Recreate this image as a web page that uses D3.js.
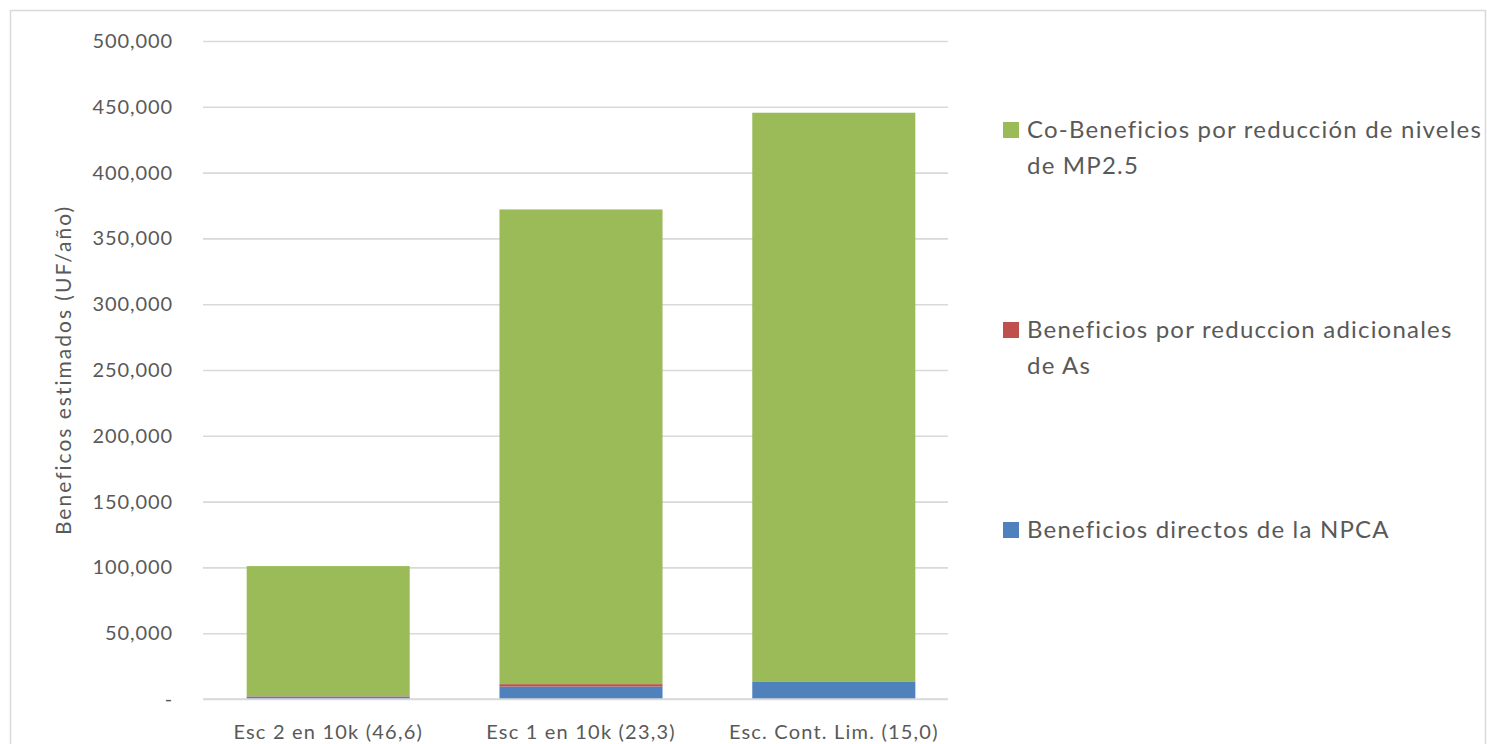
<!DOCTYPE html>
<html>
<head>
<meta charset="utf-8">
<script src="https://cdn.jsdelivr.net/npm/d3@7"></script>
<style>
  html, body { margin: 0; padding: 0; background: #ffffff; }
  svg { display: block; }
  text { font-family: Lato, "Open Sans", "Liberation Sans", sans-serif; fill: #595959; }
</style>
</head>
<body>
<svg id="chart" width="1487" height="744"></svg>
<script>
// Scenarios on the x axis
const categories = ["Esc 2 en 10k (46,6)", "Esc 1 en 10k (23,3)", "Esc. Cont. Lim. (15,0)"];

// Stacked series (UF/año), bottom to top
const directos = [1800, 9500, 13000];        // Beneficios directos de la NPCA
const arsenico = [300, 1800, 400];           // Beneficios por reduccion adicionales de As
const coBeneficios = [98900, 360700, 432100]; // Co-Beneficios por reducción de niveles de MP2.5

const seriesKeys = ["directos", "arsenico", "coBeneficios"];
const seriesColors = ["#4f81bd", "#c0504d", "#9bbb59"];

// Legend entries, top to bottom, each split into its display lines
const legendOrder = ["coBeneficios", "arsenico", "directos"];
const legendLines = [
  ["Co-Beneficios por reducción de niveles", "de MP2.5"],
  ["Beneficios por reduccion adicionales", "de As"],
  ["Beneficios directos de la NPCA"]
];

const yTicks = [0, 50000, 100000, 150000, 200000, 250000, 300000, 350000, 400000, 450000, 500000];
const yTitle = "Beneficos estimados (UF/año)";

const rows = categories.map((c, i) => ({
  category: c,
  directos: directos[i],
  arsenico: arsenico[i],
  coBeneficios: coBeneficios[i]
}));

const svg = d3.select("#chart");

// Chart frame
svg.append("rect")
  .attr("x", 10.5).attr("y", 10.5)
  .attr("width", 1475).attr("height", 760)
  .attr("fill", "#ffffff")
  .attr("stroke", "#d9d9d9")
  .attr("stroke-width", 1.5);

const plot = { left: 203, right: 948, top: 41, bottom: 699 };

// Category bands (bars sit slightly right of the gridline span)
const x = d3.scaleBand()
  .domain(categories)
  .range([plot.left + 5.5, plot.right + 5.5])
  .paddingInner(0.355)
  .paddingOuter(0.151);

const y = d3.scaleLinear()
  .domain([0, 500000])
  .range([plot.bottom, plot.top]);

const colorOf = d3.scaleOrdinal().domain(seriesKeys).range(seriesColors);

// Horizontal gridlines and value labels
const yAxis = d3.axisLeft(y)
  .tickValues(yTicks)
  .tickSize(-(plot.right - plot.left))
  .tickPadding(30)
  .tickFormat(v => v === 0 ? "-" : d3.format(",")(v));

const gy = svg.append("g")
  .attr("transform", `translate(${plot.left},0)`)
  .call(yAxis);
gy.select(".domain").remove();
gy.selectAll(".tick line")
  .attr("stroke", "#d9d9d9")
  .attr("stroke-width", 1.6);
gy.selectAll(".tick text")
  .attr("fill", "#595959")
  .style("font-size", "20px")
  .style("letter-spacing", "0.9px");

// Stacked bars
const stacked = d3.stack().keys(seriesKeys)(rows);

svg.append("g")
  .selectAll("g")
  .data(stacked)
  .join("g")
  .attr("fill", d => colorOf(d.key))
  .selectAll("rect")
  .data(d => d)
  .join("rect")
  .attr("x", d => x(d.data.category))
  .attr("width", x.bandwidth())
  .attr("y", d => y(d[1]))
  .attr("height", d => y(d[0]) - y(d[1]));

// Baseline
svg.append("line")
  .attr("x1", plot.left).attr("x2", plot.right)
  .attr("y1", y(0)).attr("y2", y(0))
  .attr("stroke", "#d9d9d9")
  .attr("stroke-width", 1.6);

// Category labels
const xAxis = d3.axisBottom(x).tickSize(0).tickPadding(26);
const gx = svg.append("g")
  .attr("transform", `translate(0,${plot.bottom})`)
  .call(xAxis);
gx.select(".domain").remove();
gx.selectAll(".tick text")
  .attr("fill", "#595959")
  .style("font-size", "20px")
  .style("letter-spacing", "1.2px");

// Y axis title
svg.append("text")
  .attr("transform", `translate(71,${(plot.top + plot.bottom) / 2}) rotate(-90)`)
  .attr("text-anchor", "middle")
  .style("font-size", "21px")
  .style("letter-spacing", "2px")
  .text(yTitle);

// Legend
const legendTops = [122, 322, 522];
const legend = svg.append("g");
legendOrder.forEach((key, i) => {
  const g = legend.append("g").attr("transform", `translate(1003,${legendTops[i]})`);
  g.append("rect")
    .attr("width", 16).attr("height", 16)
    .attr("fill", colorOf(key));
  const t = g.append("text")
    .attr("x", 24)
    .attr("y", 16)
    .style("font-size", "24px")
    .style("letter-spacing", "1.2px");
  legendLines[i].forEach((line, j) => {
    t.append("tspan")
      .attr("x", 24)
      .attr("dy", j === 0 ? 0 : 35.5)
      .text(line);
  });
});
</script>
</body>
</html>
